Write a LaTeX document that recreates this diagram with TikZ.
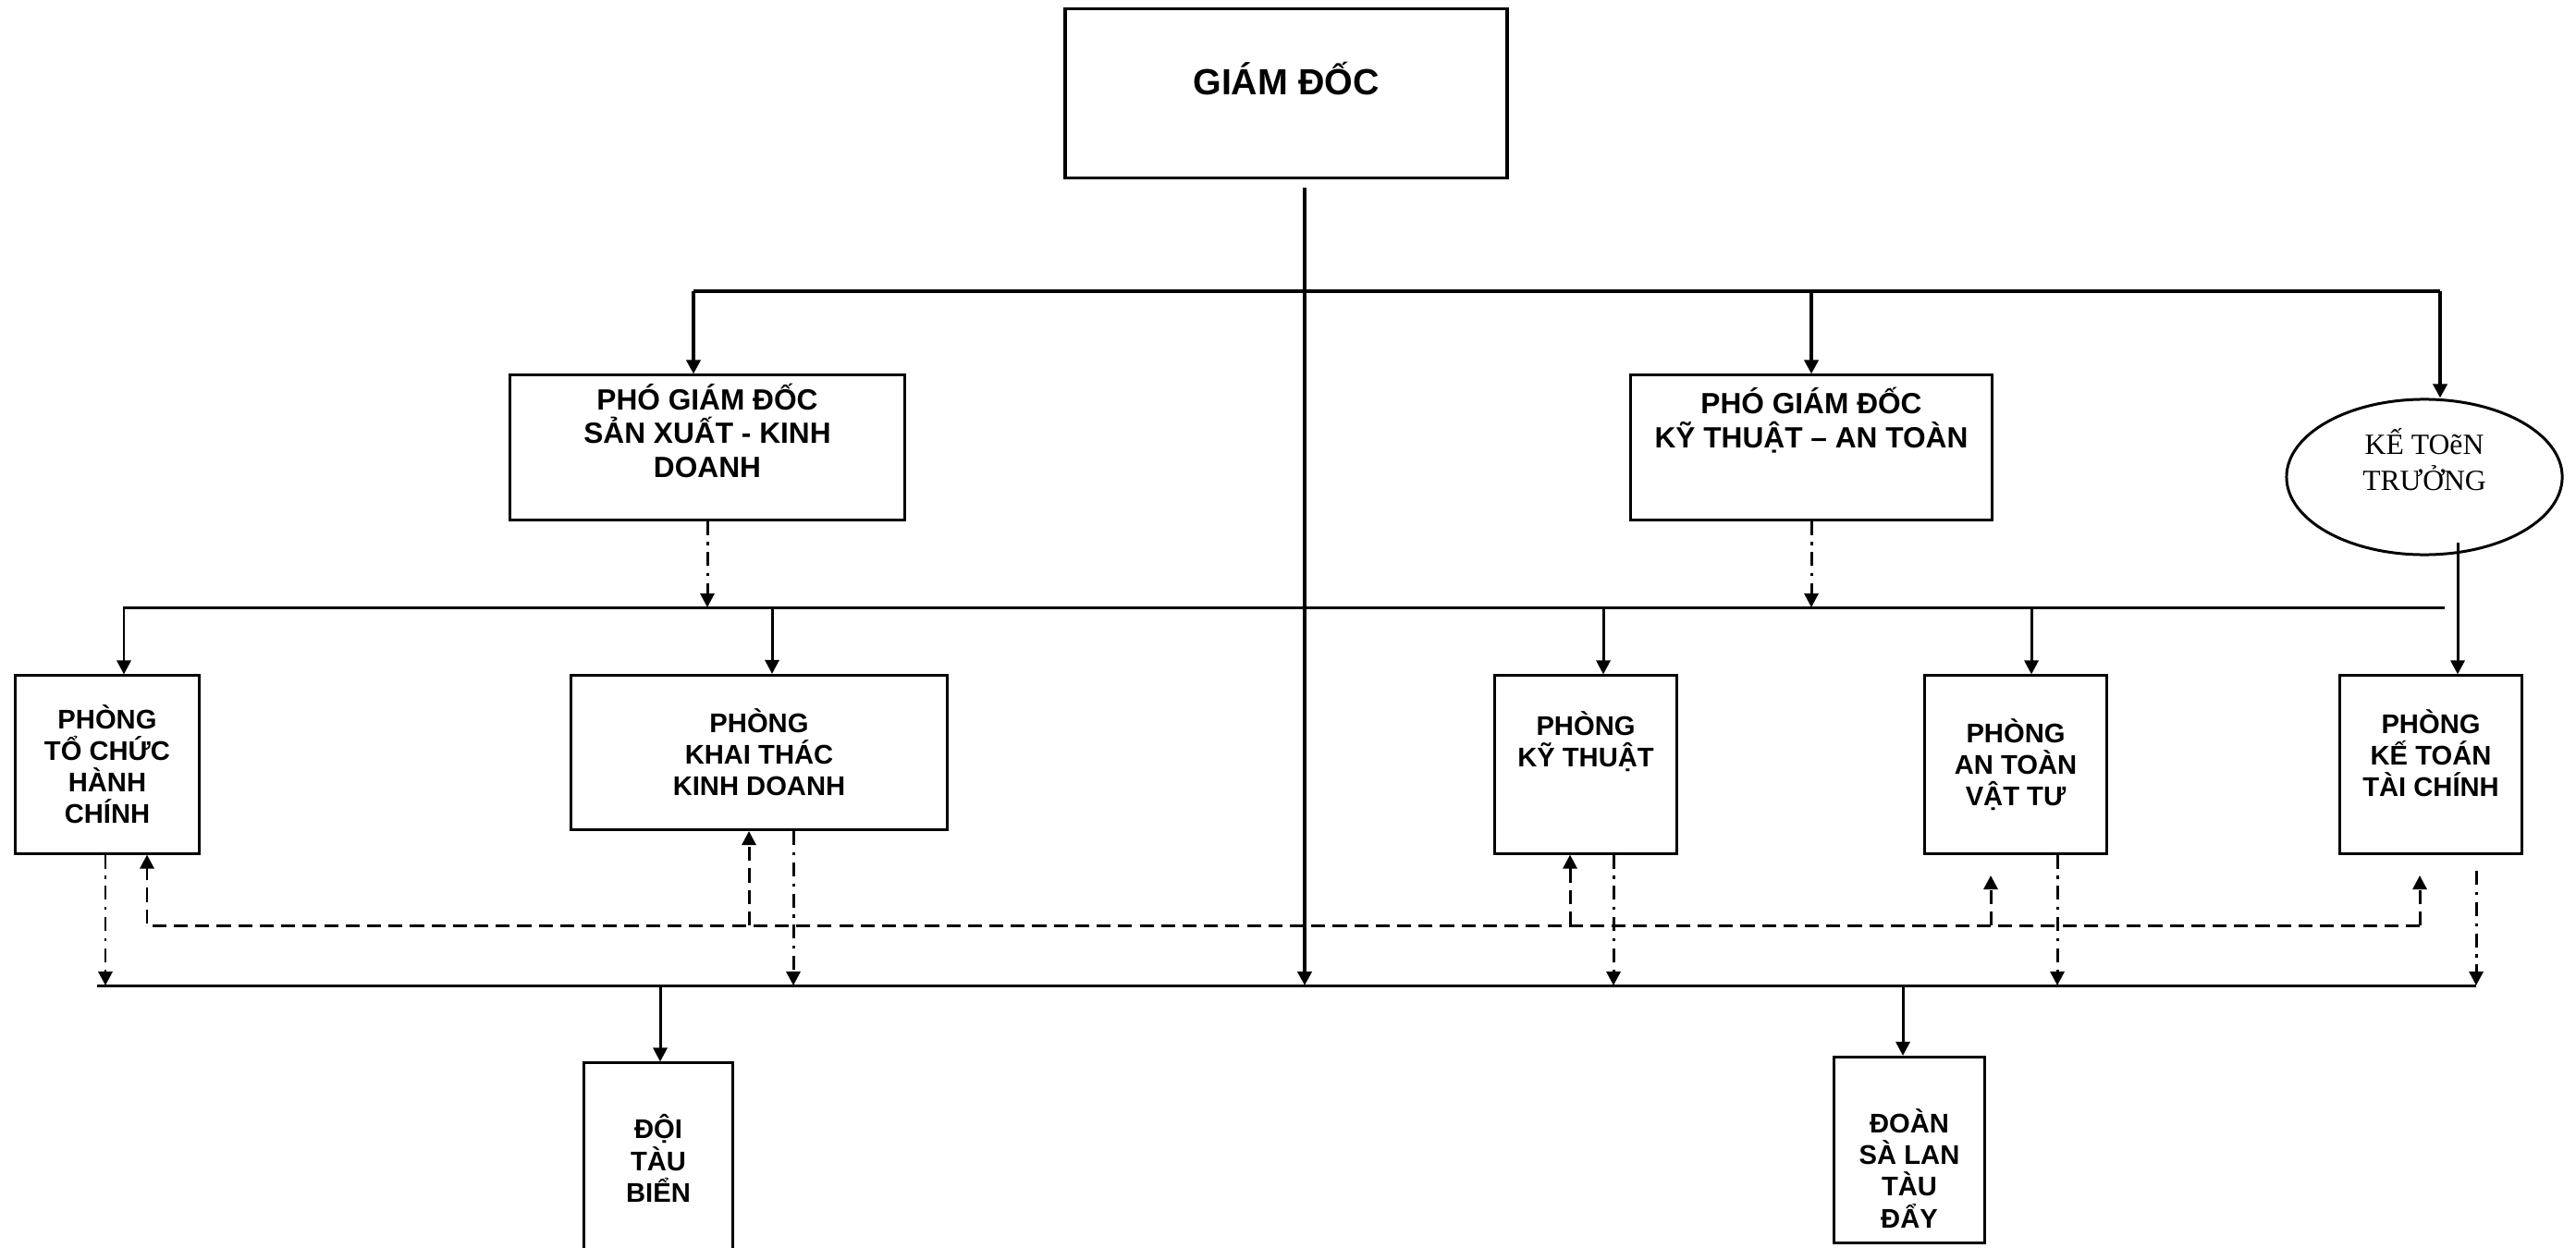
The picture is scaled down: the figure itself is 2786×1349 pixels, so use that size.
\documentclass[tikz,border=0pt]{standalone}
\usepackage{fontspec}
\setmainfont{Liberation Sans}
\newfontfamily\timesfont{Liberation Serif}
\usetikzlibrary{arrows.meta,shapes.geometric}

\begin{document}
\begin{tikzpicture}[x=0.01cm,y=-0.01cm,line width=0.85pt,
  >={Triangle[length=4.3pt,width=4.3pt]},
  box/.style={draw,rectangle,align=center,inner sep=0pt,
    font=\fontsize{8.3pt}{9.7pt}\selectfont\bfseries},
  dotlink/.style={dash pattern=on 4.3pt off 2.2pt on 0.9pt off 2.2pt},
  dashlink/.style={dash pattern=on 4.3pt off 2.3pt}]
\useasboundingbox (0,0) rectangle (2786,1349);
\clip (0,0) rectangle (2786,1349);

% boxes
\node[box,minimum width=4.77cm,minimum height=1.83cm,line width=1.1pt,
  font=\fontsize{11.2pt}{13pt}\selectfont\bfseries,text depth=9pt] (gd) at (1391,101) {GIÁM ĐỐC};
\node[box,minimum width=4.27cm,minimum height=1.56cm,
  font=\fontsize{9pt}{10.4pt}\selectfont\bfseries] (pgd1) at (765,484) {PHÓ GIÁM ĐỐC\\SẢN XUẤT - KINH\\DOANH\\~};
\node[box,minimum width=3.91cm,minimum height=1.56cm,
  font=\fontsize{9pt}{10.4pt}\selectfont\bfseries] (pgd2) at (1959,484) {PHÓ GIÁM ĐỐC\\KỸ THUẬT – AN TOÀN\\[8pt]~};
\node[draw,ellipse,minimum width=2.98cm,minimum height=1.68cm,inner sep=0pt,align=center,
  font=\timesfont\fontsize{9pt}{11pt}\selectfont] (ktt) at (2622,516) {KẾ TOẽN\\TRƯỞNG\\~};

\node[box,minimum width=1.98cm,minimum height=1.92cm] (tc) at (116,827) {PHÒNG\\TỔ CHỨC\\HÀNH\\CHÍNH};
\node[box,minimum width=4.07cm,minimum height=1.67cm] (kd) at (821,814) {PHÒNG\\KHAI THÁC\\KINH DOANH};
\node[box,minimum width=1.97cm,minimum height=1.92cm] (kt) at (1715,827) {PHÒNG\\KỸ THUẬT\\[6pt]~};
\node[box,minimum width=1.96cm,minimum height=1.92cm] (at) at (2180,827) {PHÒNG\\AN TOÀN\\VẬT TƯ};
\node[box,minimum width=1.96cm,minimum height=1.92cm] (kttc) at (2629,827) {PHÒNG\\KẾ TOÁN\\TÀI CHÍNH\\[-2.7pt]~};

\node[box,minimum width=1.61cm,minimum height=2.06cm] (dtb) at (712,1253) {ĐỘI\\TÀU\\BIỂN};
\node[box,minimum width=1.62cm,minimum height=2.01cm] (dsl) at (2065,1244) {~\\[9pt]ĐOÀN\\SÀ LAN\\TÀU\\ĐẨY};

% buses
\coordinate (gdout) at (1411,203);
\coordinate (b1l) at (750,315);
\coordinate (b1r) at (2639,315);
\coordinate (b2l) at (133,657);
\coordinate (b2r) at (2644,657);
\coordinate (b3l) at (105,1066);
\coordinate (b3r) at (2678,1066);

\draw[line width=1pt] (b1l) -- (b1r);
\draw (b2l) -- (b2r);
\draw (b3l) -- (b3r);
\draw[line width=1.2pt,->] (gdout) -- (gdout |- b3l);

% top level
\draw[line width=1pt,->] (b1l) -- (pgd1.north -| b1l);
\draw[line width=1.15pt,->] (pgd2.north |- b1l) -- (pgd2.north);
\draw[line width=1.15pt,->] (b1r) -- (b1r |- ktt.north);
\draw[dotlink,->] (pgd1.south) -- (pgd1.south |- b2l);
\draw[dotlink,->] (pgd2.south) -- (pgd2.south |- b2l);

% departments
\foreach \d/\n in {134/tc,835/kd,1734/kt,2197/at}{
  \coordinate (top) at (\d,657);
  \draw[->] (top) -- (top |- \n.north);
}
\coordinate (kttin) at (2658,587);
\draw[->] (kttin) -- (kttin |- kttc.north);

% links between departments
\coordinate (nl) at (159,1001);
\coordinate (nr) at (2617,1001);
\coordinate (n2) at (810,1001);
\coordinate (n3) at (1698,1001);
\coordinate (n4) at (2153,1001);
\draw[dashlink,->] (nr) -- (nl) -- (nl |- tc.south);
\draw[dashlink,->] (nr) -- ++(0,-54);
\draw[dashlink,->] (n2) -- (n2 |- kd.south);
\draw[dashlink,->] (n3) -- (n3 |- kt.south);
\draw[dashlink,->] (n4) -- ++(0,-54);

\foreach \x/\n in {114/tc,858/kd,1745/kt,2225/at}{
  \coordinate (low) at (\x,1066);
  \draw[dotlink,->] (low |- \n.south) -- (low);
}
\coordinate (kout) at (2678,942);
\draw[dotlink,->] (kout) -- (b3r);

% units
\coordinate (e1) at (714,1066);
\coordinate (e2) at (2058,1066);
\draw[->] (e1) -- (e1 |- dtb.north);
\draw[->] (e2) -- (e2 |- dsl.north);
\end{tikzpicture}
\end{document}
